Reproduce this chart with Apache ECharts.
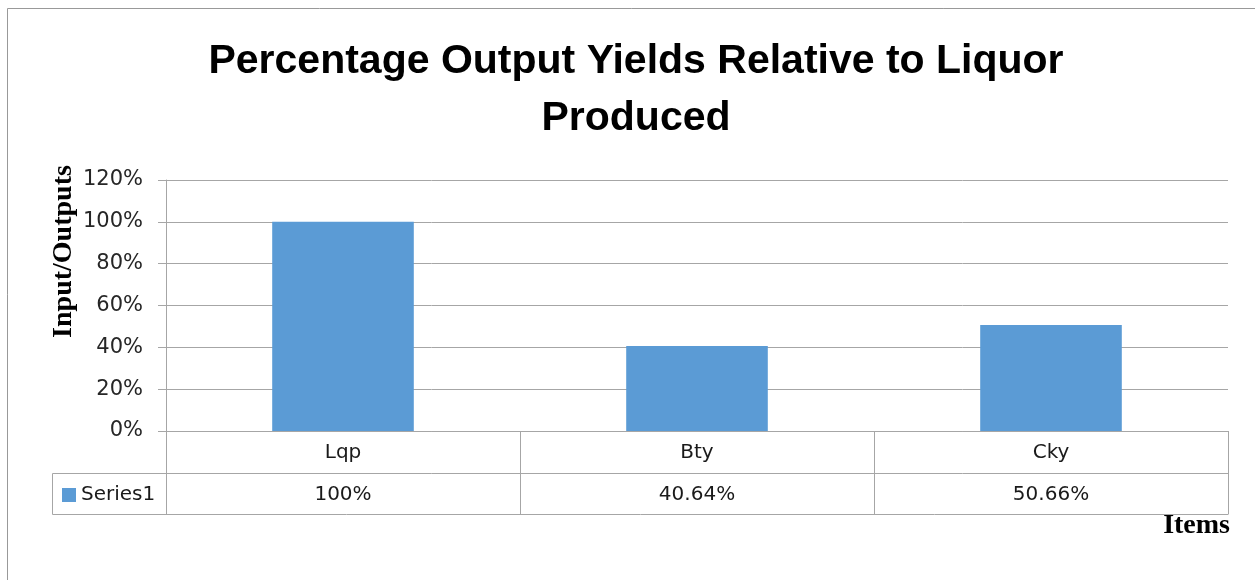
<!DOCTYPE html>
<html><head><meta charset="utf-8">
<script src="https://cdn.jsdelivr.net/npm/echarts@6/dist/echarts.min.js"></script>
<style>html,body{margin:0;padding:0;background:#fff}#c{width:1255px;height:580px}</style>
</head><body><div id="c"></div>
<script>
const categories = ['Lqp', 'Bty', 'Cky'];
const values = [1.0, 0.4064, 0.5066];
const valueLabels = ['100%', '40.64%', '50.66%'];
const seriesName = 'Series1';
const titleText = 'Percentage Output Yields Relative to Liquor\nProduced';
const yTitle = 'Input/Outputs';
const xTitle = 'Items';

const lineC = '#a6a6a6';
const chart = echarts.init(document.getElementById('c'));
const grid = {left: 166, right: 27, top: 180, bottom: 149};
chart.setOption({
  animation: false,
  title: {text: titleText, left: 631, textAlign: 'center', top: 28,
    textStyle: {fontFamily: 'Liberation Sans', fontWeight: 'bold', fontSize: 41, lineHeight: 57, color: '#000'}},
  legend: {data: [seriesName], left: 57, top: 480, itemWidth: 14, itemHeight: 14, itemGap: 6,
    icon: 'rect', textStyle: {fontFamily: 'DejaVu Sans', fontSize: 20, color: '#1a1a1a'}},
  grid: grid,
  xAxis: [
    {type: 'category', data: categories, position: 'bottom',
     axisLine: {lineStyle: {color: lineC, width: 1}},
     axisTick: {show: true, length: 42, interval: 0, lineStyle: {color: lineC}},
     axisLabel: {margin: 12, fontFamily: 'DejaVu Sans', fontSize: 20, color: '#1a1a1a'}},
    {type: 'category', data: valueLabels, position: 'bottom', offset: 42,
     axisLine: {lineStyle: {color: lineC, width: 1}},
     axisTick: {show: true, length: 41, interval: 0, lineStyle: {color: lineC}},
     axisLabel: {margin: 12, fontFamily: 'DejaVu Sans', fontSize: 20, color: '#1a1a1a'}}
  ],
  yAxis: {type: 'value', min: 0, max: 1.2, interval: 0.2,
    axisLine: {show: true, lineStyle: {color: lineC}},
    axisTick: {show: true, length: 8, lineStyle: {color: lineC}},
    splitLine: {lineStyle: {color: lineC}},
    axisLabel: {margin: 23, fontFamily: 'DejaVu Sans', fontSize: 21, color: '#262626',
      formatter: v => Math.round(v * 100) + '%'}},
  series: [{name: seriesName, type: 'bar', data: values, barWidth: '40%', xAxisIndex: 0,
    itemStyle: {color: '#5b9bd5'}}]
});
const pTop = chart.convertToPixel({yAxisIndex: 0}, 1.2);
const p0 = chart.convertToPixel({yAxisIndex: 0}, 0);
const left = grid.left, right = 1255 - grid.right;
const r1 = p0 + 42, r2 = p0 + 83;
chart.setOption({graphic: [
  {type: 'line', shape: {x1: 7.5, y1: 8.5, x2: 1255, y2: 8.5}, style: {stroke: '#999', lineWidth: 1}},
  {type: 'line', shape: {x1: 7.5, y1: 8.5, x2: 7.5, y2: 580}, style: {stroke: '#999', lineWidth: 1}},
  {type: 'line', shape: {x1: 52.5, y1: r1 + 0.5, x2: left, y2: r1 + 0.5}, style: {stroke: lineC, lineWidth: 1}},
  {type: 'line', shape: {x1: 52.5, y1: r2 + 0.5, x2: right + 0.5, y2: r2 + 0.5}, style: {stroke: lineC, lineWidth: 1}},
  {type: 'line', shape: {x1: 52.5, y1: r1 + 0.5, x2: 52.5, y2: r2 + 0.5}, style: {stroke: lineC, lineWidth: 1}},
  {type: 'text', x: 64, y: (pTop + p0) / 2 - 54, rotation: Math.PI / 2,
   style: {text: yTitle, textAlign: 'center', textVerticalAlign: 'middle', fill: '#000',
     font: 'bold 28px "Liberation Serif"'}},
  {type: 'text', x: 1230, y: 526,
   style: {text: xTitle, textAlign: 'right', textVerticalAlign: 'middle', fill: '#000',
     font: 'bold 28px "Liberation Serif"'}}
]});
</script></body></html>
